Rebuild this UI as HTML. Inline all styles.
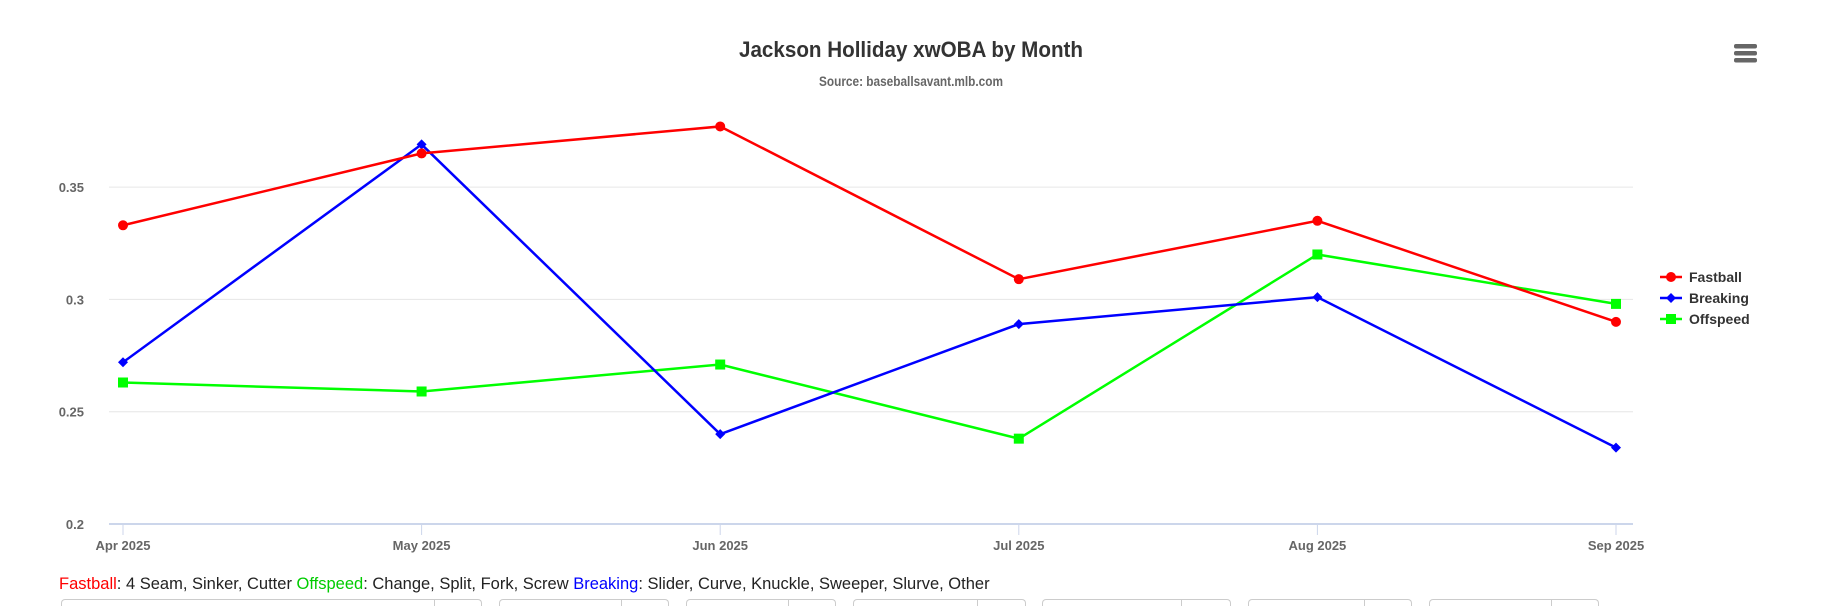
<!DOCTYPE html>
<html><head><meta charset="utf-8"><style>
html,body{margin:0;width:1835px;height:606px;overflow:hidden;background:#fff;font-family:"Liberation Sans",sans-serif}
.box{position:absolute;top:599px;height:7px;border:1px solid #ccc;border-bottom:none;border-radius:4px 4px 0 0;box-sizing:border-box}
.box i{position:absolute;top:0;bottom:0;width:0;border-left:1px solid #ccc}
</style></head><body>
<svg width="1835" height="606" style="position:absolute;left:0;top:0">
<g id="grid"></g><g id="series"></g>
<text x="911" y="57" text-anchor="middle" font-size="22" font-weight="bold" fill="#333" textLength="344" lengthAdjust="spacingAndGlyphs">Jackson Holliday xwOBA by Month</text>
<text x="911" y="86" text-anchor="middle" font-size="14" font-weight="bold" fill="#666" textLength="184" lengthAdjust="spacingAndGlyphs">Source: baseballsavant.mlb.com</text>
<g fill="#666">
<rect x="1734" y="44" width="23" height="4.5" rx="2"/><rect x="1734" y="51" width="23" height="4.5" rx="2"/><rect x="1734" y="58" width="23" height="4.5" rx="2"/></g>
<g id="legend"></g>
</svg>
<div style="position:absolute;left:59px;top:575px;font-size:16.5px;color:#222;white-space:nowrap"><span style="color:red">Fastball</span>: 4 Seam, Sinker, Cutter <span style="color:#0c0">Offspeed</span>: Change, Split, Fork, Screw <span style="color:blue">Breaking</span>: Slider, Curve, Knuckle, Sweeper, Slurve, Other</div>
<div class="box" style="left:61px;width:421px"><i style="left:372px"></i></div>
<div class="box" style="left:499px;width:170px"><i style="left:121px"></i></div>
<div class="box" style="left:686px;width:150px"><i style="left:101px"></i></div>
<div class="box" style="left:853px;width:173px"><i style="left:123px"></i></div>
<div class="box" style="left:1042px;width:189px"><i style="left:138px"></i></div>
<div class="box" style="left:1248px;width:164px"><i style="left:115px"></i></div>
<div class="box" style="left:1429px;width:170px"><i style="left:121px"></i></div>
<script>
const categories=["Apr 2025","May 2025","Jun 2025","Jul 2025","Aug 2025","Sep 2025"];
const fastball=[0.333,0.365,0.377,0.309,0.335,0.290];
const breaking=[0.272,0.369,0.240,0.289,0.301,0.234];
const offspeed=[0.263,0.259,0.271,0.238,0.320,0.298];
const yTicks=[0.2,0.25,0.3,0.35];
const yTickLabels=["0.2","0.25","0.3","0.35"];
const NS="http://www.w3.org/2000/svg";
const x0=123,x1=1616,left=109,right=1633;
const y=v=>524-(v-0.2)/0.05*112.3;
const x=i=>x0+i*(x1-x0)/(categories.length-1);
function mk(t,a,p){const e=document.createElementNS(NS,t);for(const k in a)e.setAttribute(k,a[k]);p.appendChild(e);return e;}
const g=document.getElementById('grid');
yTicks.forEach((v,i)=>{
 const l=mk('line',{x1:left,x2:right,y1:y(v),y2:y(v),stroke:i==0?'#ccd6eb':'#e6e6e6','stroke-width':i==0?2:1},g);
 
 
 const t=mk('text',{x:84,y:y(v)+5,'text-anchor':'end','font-size':13,'font-weight':'bold',fill:'#666'},g);
 t.textContent=yTickLabels[i];
 
 
});
categories.forEach((c,i)=>{
 const l=mk('line',{x1:x(i),x2:x(i),y1:525,y2:535,stroke:'#ccd6eb'},g);
 
 
 const t=mk('text',{x:x(i),y:550,'text-anchor':'middle','font-size':13,'font-weight':'bold',fill:'#666'},g);
 t.textContent=c;
 
 
});
function marker(type,cx,cy,col,p){
 if(type=='circle')return mk('circle',{cx,cy,r:5,fill:col},p);
 if(type=='diamond')return mk('path',{d:`M${cx} ${cy-5}L${cx+5} ${cy}L${cx} ${cy+5}L${cx-5} ${cy}Z`,fill:col},p);
 return mk('rect',{x:cx-5,y:cy-5,width:10,height:10,fill:col},p);
}
const S=document.getElementById('series');
const seriesList=[["Fastball",fastball,"#ff0000","circle"],["Breaking",breaking,"#0000ff","diamond"],["Offspeed",offspeed,"#00ff00","square"]];
const drawOrder=[2,1,0];
drawOrder.forEach(si=>{
 const [name,vals,col,m]=seriesList[si];
 const pl=mk('polyline',{points:vals.map((v,i)=>x(i)+','+y(v)).join(' '),fill:'none',stroke:col,'stroke-width':2.5},S);
 
 
 vals.forEach((v,i)=>{
  const mm=marker(m,x(i),y(v),col,S);
  
  
 });
});
const L=document.getElementById('legend');
seriesList.forEach(([name,vals,col,m],i)=>{
 const ly=277+i*21;
 const grp=mk('g',{},L);
 
 
 mk('line',{x1:1660,x2:1682,y1:ly,y2:ly,stroke:col,'stroke-width':2.5},grp);
 marker(m,1671,ly,col,grp);
 const t=mk('text',{x:1689,y:ly+5,'font-size':14,'font-weight':'bold',fill:'#333'},grp);
 t.textContent=name;
});
</script>
</body></html>
